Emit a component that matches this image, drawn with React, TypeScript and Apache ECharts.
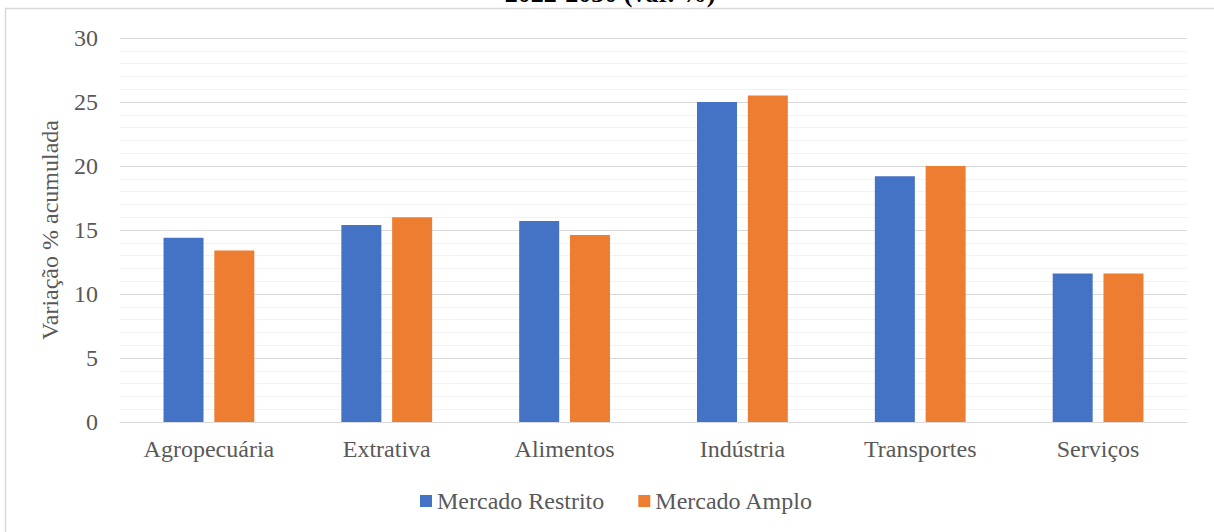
import React, { useEffect, useRef } from "react";
import * as echarts from "echarts";

const categories = ["Agropecuária", "Extrativa", "Alimentos", "Indústria", "Transportes", "Serviços"];
const mercadoRestrito = [14.4, 15.4, 15.7, 25.0, 19.2, 11.6];
const mercadoAmplo = [13.4, 16.0, 14.6, 25.5, 20.0, 11.6];
const seriesNames = ["Mercado Restrito", "Mercado Amplo"];
const titleText = "2022-2030 (var. %)";
const yAxisName = "Variação % acumulada";

const FONT = "'Liberation Serif', 'Times New Roman', serif";

export default function App() {
  const ref = useRef<HTMLDivElement>(null);
  useEffect(() => {
    if (!ref.current) return;
    const chart = echarts.init(ref.current, null, { renderer: "svg" });
    chart.setOption({
      animation: false,
      backgroundColor: "#ffffff",
      textStyle: { fontFamily: FONT },
      graphic: [
        {
          type: "rect",
          shape: { x: 5.5, y: 8.5, width: 1400, height: 800 },
          style: { fill: "none", stroke: "#d9d9d9", lineWidth: 1.5 },
          silent: true,
          z: -1,
        },
        {
          type: "text",
          x: 610,
          y: 6,
          style: {
            text: titleText,
            fontFamily: FONT,
            fontWeight: "bold",
            fontSize: 26,
            fill: "#000000",
            align: "center",
            verticalAlign: "bottom",
          },
        },
      ],
      legend: {
        data: seriesNames,
        top: 489,
        left: 420,
        icon: "rect",
        itemWidth: 12,
        itemHeight: 12,
        itemGap: 34,
        padding: 0,
        textStyle: { fontFamily: FONT, fontSize: 24, color: "#595959" },
      },
      grid: { left: 120, right: 27, top: 38, bottom: 110 },
      xAxis: {
        type: "category",
        data: categories,
        axisLine: { lineStyle: { color: "#d9d9d9", width: 1 } },
        axisTick: { show: false },
        axisLabel: { fontFamily: FONT, fontSize: 24, color: "#595959", margin: 15 },
      },
      yAxis: {
        type: "value",
        min: 0,
        max: 30,
        interval: 5,
        name: yAxisName,
        nameLocation: "middle",
        nameGap: 58,
        nameTextStyle: { fontFamily: FONT, fontSize: 24, color: "#595959" },
        axisLine: { show: false },
        axisTick: { show: false },
        axisLabel: { fontFamily: FONT, fontSize: 24, color: "#595959", margin: 22 },
        splitLine: { lineStyle: { color: "#d9d9d9", width: 1 } },
        minorTick: { show: false, splitNumber: 5 },
        minorSplitLine: { show: true, lineStyle: { color: "#f2f2f2", width: 1 } },
      },
      series: [
        {
          name: seriesNames[0],
          type: "bar",
          data: mercadoRestrito,
          barWidth: 40,
          barGap: "27%",
          itemStyle: { color: "#4472c4" },
        },
        {
          name: seriesNames[1],
          type: "bar",
          data: mercadoAmplo,
          barWidth: 40,
          itemStyle: { color: "#ed7d31" },
        },
      ],
    });
    return () => chart.dispose();
  }, []);
  return (
    <div
      ref={ref}
      style={{ position: "absolute", left: 0, top: 0, width: 1214, height: 532 }}
    />
  );
}
